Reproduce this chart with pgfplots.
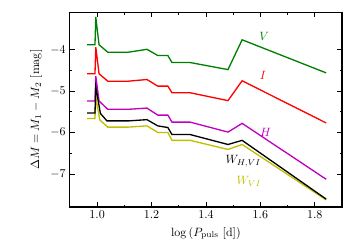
\documentclass[border=0pt]{standalone}
\usepackage{pgfplots}
\pgfplotsset{compat=1.18}
\definecolor{mgreen}{rgb}{0,0.5,0}
\definecolor{mred}{rgb}{1,0,0}
\definecolor{mmag}{rgb}{0.75,0,0.75}
\definecolor{myel}{rgb}{0.75,0.75,0}
\begin{document}
\begin{tikzpicture}
\useasboundingbox (0,0) rectangle (291.7pt,208.3pt);
\begin{axis}[
  at={(58.3pt,35.8pt)}, anchor=south west,
  width=226.7pt, height=162.1pt, scale only axis,
  xmin=0.9, xmax=1.9, ymin=-7.8, ymax=-3.1,
  xtick={1.0,1.2,1.4,1.6,1.8},
  ytick={-7,-6,-5,-4},
  minor x tick num=1, minor y tick num=1,
  tick align=inside, ticks=both,
  major tick length=4pt, minor tick length=2pt,
  xtick pos=both, ytick pos=both,
  axis line style={line width=0.9pt},
  every tick/.style={line width=0.6pt, black},
  xticklabel style={/pgf/number format/fixed,/pgf/number format/precision=1,/pgf/number format/fixed zerofill},
  xlabel={$\log\,(P_{\mathrm{puls}}\ [\mathrm{d}])$},
  ylabel={$\Delta M = M_1 - M_2\ [\mathrm{mag}]$},
  every axis plot/.append style={line width=1.1pt, no marks},
]
\addplot[mgreen] coordinates {(0.963,-3.88) (0.992,-3.88) (0.995,-3.21) (1.007,-3.88) (1.039,-4.06) (1.115,-4.06) (1.183,-3.99) (1.223,-4.14) (1.260,-4.14) (1.275,-4.31) (1.342,-4.31) (1.481,-4.48) (1.533,-3.76) (1.842,-4.56)};
\addplot[mred] coordinates {(0.963,-4.58) (0.992,-4.58) (0.995,-3.94) (1.007,-4.58) (1.039,-4.76) (1.115,-4.76) (1.183,-4.72) (1.223,-4.88) (1.260,-4.88) (1.275,-5.04) (1.342,-5.04) (1.481,-5.23) (1.533,-4.75) (1.842,-5.77)};
\addplot[mmag] coordinates {(0.963,-5.24) (0.992,-5.24) (0.995,-4.64) (1.007,-5.24) (1.039,-5.44) (1.115,-5.44) (1.183,-5.41) (1.223,-5.58) (1.260,-5.58) (1.275,-5.75) (1.342,-5.75) (1.481,-5.99) (1.533,-5.78) (1.842,-7.13)};
\addplot[myel] coordinates {(0.963,-5.66) (0.992,-5.66) (0.995,-5.15) (1.010,-5.70) (1.039,-5.87) (1.115,-5.87) (1.183,-5.84) (1.223,-6.00) (1.260,-6.00) (1.275,-6.19) (1.342,-6.19) (1.481,-6.41) (1.533,-6.29) (1.842,-7.63)};
\addplot[black] coordinates {(0.963,-5.53) (0.992,-5.53) (0.995,-4.90) (1.012,-5.54) (1.036,-5.72) (1.115,-5.72) (1.183,-5.69) (1.223,-5.84) (1.260,-5.88) (1.275,-6.05) (1.342,-6.05) (1.481,-6.29) (1.533,-6.19) (1.842,-7.61)};
\node[mgreen] at (axis cs:1.614,-3.67) {$V$};
\node[mred] at (axis cs:1.61,-4.62) {$I$};
\node[mmag] at (axis cs:1.619,-6.0) {$H$};
\node[black] at (axis cs:1.537,-6.69) {$W_{H,VI}$};
\node[myel] at (axis cs:1.558,-7.19) {$W_{VI}$};
\end{axis}
\end{tikzpicture}
\end{document}
